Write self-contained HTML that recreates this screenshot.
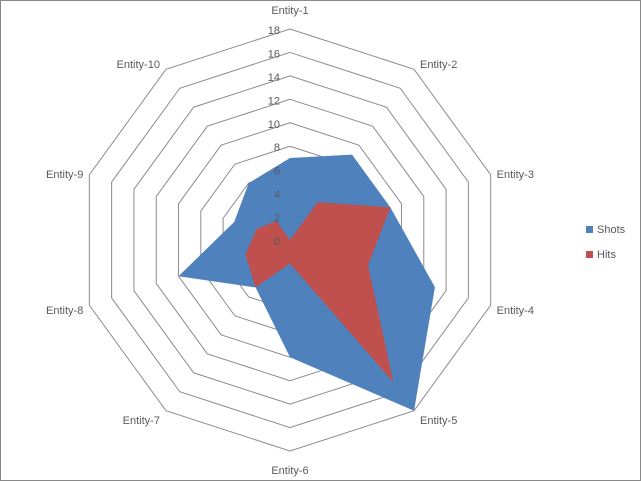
<!DOCTYPE html>
<html><head><meta charset="utf-8"><style>
html,body{margin:0;padding:0;background:#fff;}
svg{display:block;font-family:"Liberation Sans",sans-serif;}
</style></head><body>
<svg id="chart" width="641" height="481">
<rect x="0.5" y="0.5" width="640" height="480" fill="#fff" stroke="#888"/>
<g id="grid"></g><g id="series"></g><g id="labels"></g><g id="ticks"></g>
<g>
<rect x="586" y="226" width="7" height="7" fill="#4f81bd"/>
<text x="597" y="233" font-size="11" fill="#595959">Shots</text>
<rect x="586" y="251" width="7" height="7" fill="#c0504d"/>
<text x="597" y="258" font-size="11" fill="#595959">Hits</text>
</g>
</svg>
<script>
const categories=["Entity-1","Entity-2","Entity-3","Entity-4","Entity-5","Entity-6","Entity-7","Entity-8","Entity-9","Entity-10"];
const shots=[7,9,9,13,18,10,5,10,5,6];
const hits=[0,4,9,7,15,2,5,4,3,2];
const tickLabels=[0,2,4,6,8,10,12,14,16,18];
const NS="http://www.w3.org/2000/svg";
const cx=290,cy=240,R=211,maxV=18;
function ang(i){return i*2*Math.PI/categories.length;}
function pt(i,v){const r=v/maxV*R;return [cx+r*Math.sin(ang(i)),cy-r*Math.cos(ang(i))];}
function mk(tag,attrs,parent){const e=document.createElementNS(NS,tag);for(const k in attrs)e.setAttribute(k,attrs[k]);parent.appendChild(e);return e;}
const grid=document.getElementById('grid');
tickLabels.forEach(t=>{if(t===0)return;
 const p=mk('polygon',{points:categories.map((c,i)=>pt(i,t).join(',')).join(' '),fill:'none',stroke:'#8c8c8c','stroke-width':1},grid);
 
 
});
const ser=document.getElementById('series');
[[shots,'#4f81bd','series-shots'],[hits,'#c0504d','series-hits']].forEach(([d,c,n])=>{
 const p=mk('polygon',{points:d.map((v,i)=>pt(i,v).join(',')).join(' '),fill:c},ser);
 
 
});
const lab=document.getElementById('labels');
categories.forEach((c,i)=>{
 const [vx,vy]=pt(i,maxV);const s=Math.sin(ang(i)),co=Math.cos(ang(i));
 let x,y,anchor;
 if(Math.abs(s)<0.1){anchor='middle';x=vx;y=co>0?vy-15:vy+23;}
 else{anchor=s>0?'start':'end';x=s>0?vx+6:vx-6;y=vy+6-9*co;}
 const t=mk('text',{x:x,y:y,'text-anchor':anchor,'font-size':11,fill:'#595959'},lab);t.textContent=c;
 
 
});
const tk=document.getElementById('ticks');
tickLabels.forEach(v=>{const y=cy-v/maxV*R+5;
 const t=mk('text',{x:280,y:y,'text-anchor':'end','font-size':11,fill:'#595959'},tk);t.textContent=v;
 
 
});
</script>
</body></html>
